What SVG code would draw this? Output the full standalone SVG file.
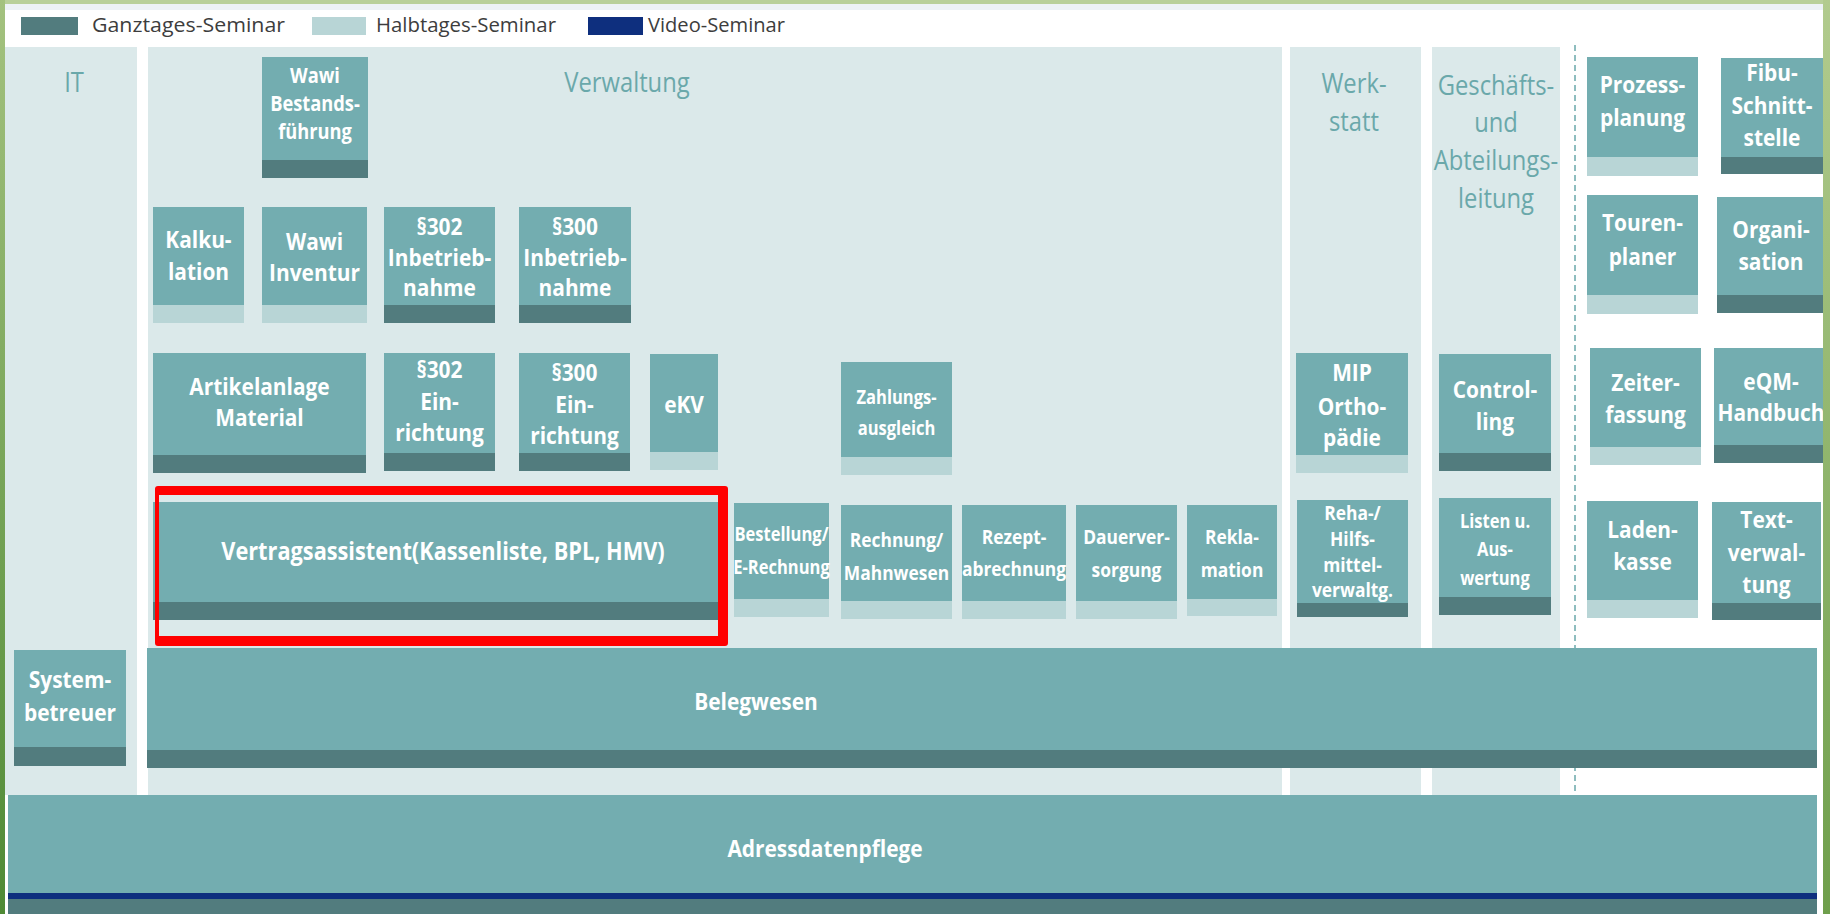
<svg xmlns="http://www.w3.org/2000/svg" width="1830" height="914" viewBox="0 0 1830 914">
<defs>
<style>
.col{fill:#dbe9ea}
.box{fill:#73adb0}
.dk{fill:#527c7e}
.lt{fill:#b8d5d6}
.b{font-family:"Open Sans","Liberation Sans",sans-serif;font-weight:700;font-size:24px;fill:#fff;text-anchor:middle;transform-box:fill-box;transform-origin:center;transform:scaleX(0.87)}
.m{font-size:21px}
.s{font-size:20px}
.xs{font-size:19px}
.lb{font-family:"Open Sans","Liberation Sans",sans-serif;font-weight:400;font-size:27px;fill:#6aa8aa;text-anchor:middle;transform-box:fill-box;transform-origin:center;transform:scaleX(0.88)}
.lg{font-family:"Open Sans","Liberation Sans",sans-serif;font-size:20px;fill:#3d3d3d}
.dash{stroke:#6aa8aa;stroke-width:1.5;stroke-dasharray:6 4;fill:none}
</style>
<linearGradient id="gl" x1="0" y1="0" x2="0" y2="1"><stop offset="0" stop-color="#a4c27f"/><stop offset="1" stop-color="#4f8a35"/></linearGradient>
<linearGradient id="gr" x1="0" y1="0" x2="0" y2="1"><stop offset="0" stop-color="#b2cb8e"/><stop offset="1" stop-color="#6f9f4c"/></linearGradient>
</defs>
<rect x="0" y="0" width="1830" height="914" fill="#ffffff"/>
<rect x="0" y="4" width="1830" height="6" fill="#edf2f6"/>

<g id="legend">
<rect x="21" y="17" width="57" height="18" class="dk"/>
<text class="lg" x="92" y="32" textLength="193" lengthAdjust="spacingAndGlyphs">Ganztages-Seminar</text>
<rect x="312" y="17" width="54" height="18" class="lt"/>
<text class="lg" x="376" y="32" textLength="180" lengthAdjust="spacingAndGlyphs">Halbtages-Seminar</text>
<rect x="588" y="17" width="55" height="18" fill="#0e2f7e"/>
<text class="lg" x="648" y="32" textLength="137" lengthAdjust="spacingAndGlyphs">Video-Seminar</text>
</g>

<g id="columns">
<rect class="col" x="5" y="47" width="132" height="748"/>
<rect class="col" x="148" y="47" width="1134" height="748"/>
<rect class="col" x="1290" y="47" width="131" height="748"/>
<rect class="col" x="1432" y="47" width="128" height="748"/>
<line class="dash" x1="1575" y1="45" x2="1575" y2="795"/>
<text class="lb" x="74" y="92">IT</text>
<text class="lb" x="627" y="92">Verwaltung</text>
<text class="lb" x="1354" y="93"><tspan x="1354" y="93">Werk-</tspan><tspan x="1354" y="131">statt</tspan></text>
<text class="lb" x="1496" y="95"><tspan x="1496" y="95">Geschäfts-</tspan><tspan x="1496" y="132">und</tspan><tspan x="1496" y="170">Abteilungs-</tspan><tspan x="1496" y="208">leitung</tspan></text>
</g>

<g id="n-wawi-bestand"><rect class="box" x="262" y="57" width="106" height="121"/><rect class="dk" x="262" y="160" width="106" height="18"/>
<text class="b m"><tspan x="315" y="83">Wawi</tspan><tspan x="315" y="111">Bestands-</tspan><tspan x="315" y="139">führung</tspan></text></g>

<g id="n-kalkulation"><rect class="box" x="153" y="207" width="91" height="116"/><rect class="lt" x="153" y="305" width="91" height="18"/>
<text class="b"><tspan x="198.5" y="248">Kalku-</tspan><tspan x="198.5" y="280">lation</tspan></text></g>

<g id="n-wawi-inventur"><rect class="box" x="262" y="207" width="105" height="116"/><rect class="lt" x="262" y="305" width="105" height="18"/>
<text class="b"><tspan x="314.5" y="250">Wawi</tspan><tspan x="314.5" y="281">Inventur</tspan></text></g>

<g id="n-302-inbetrieb"><rect class="box" x="384" y="207" width="111" height="116"/><rect class="dk" x="384" y="305" width="111" height="18"/>
<text class="b"><tspan x="439.5" y="235">§302</tspan><tspan x="439.5" y="266">Inbetrieb-</tspan><tspan x="439.5" y="296">nahme</tspan></text></g>

<g id="n-300-inbetrieb"><rect class="box" x="519" y="207" width="112" height="116"/><rect class="dk" x="519" y="305" width="112" height="18"/>
<text class="b"><tspan x="575" y="235">§300</tspan><tspan x="575" y="266">Inbetrieb-</tspan><tspan x="575" y="296">nahme</tspan></text></g>

<g id="n-artikelanlage"><rect class="box" x="153" y="353" width="213" height="120"/><rect class="dk" x="153" y="455" width="213" height="18"/>
<text class="b"><tspan x="259.5" y="395">Artikelanlage</tspan><tspan x="259.5" y="426">Material</tspan></text></g>

<g id="n-302-einrichtung"><rect class="box" x="384" y="353" width="111" height="118"/><rect class="dk" x="384" y="453" width="111" height="18"/>
<text class="b"><tspan x="439.5" y="378">§302</tspan><tspan x="439.5" y="410">Ein-</tspan><tspan x="439.5" y="441">richtung</tspan></text></g>

<g id="n-300-einrichtung"><rect class="box" x="519" y="353" width="111" height="118"/><rect class="dk" x="519" y="453" width="111" height="18"/>
<text class="b"><tspan x="574.5" y="381">§300</tspan><tspan x="574.5" y="413">Ein-</tspan><tspan x="574.5" y="444">richtung</tspan></text></g>

<g id="n-ekv"><rect class="box" x="650" y="354" width="68" height="116"/><rect class="lt" x="650" y="452" width="68" height="18"/>
<text class="b" x="684" y="413">eKV</text></g>

<g id="n-zahlungsausgleich"><rect class="box" x="841" y="362" width="111" height="113"/><rect class="lt" x="841" y="457" width="111" height="18"/>
<text class="b xs"><tspan x="896.5" y="404">Zahlungs-</tspan><tspan x="896.5" y="435">ausgleich</tspan></text></g>

<g id="n-vertragsassistent"><rect class="box" x="153" y="502" width="565" height="118"/><rect class="dk" x="153" y="602" width="565" height="18"/>
<text class="b" style="font-size:25px" x="443" y="560">Vertragsassistent(Kassenliste, BPL, HMV)</text></g>

<g id="highlight"><path fill="#ff0000" fill-rule="evenodd" d="M158 486 H725 Q728 486 728 489 V643 Q728 646 725 646 H158 Q155 646 155 643 V489 Q155 486 158 486 Z M159 495 V636 H718 V495 Z"/></g>

<g id="n-bestellung"><rect class="box" x="734" y="503" width="95" height="114"/><rect class="lt" x="734" y="599" width="95" height="18"/>
<text class="b xs"><tspan x="781.5" y="541">Bestellung/</tspan><tspan x="781.5" y="574">E-Rechnung</tspan></text></g>

<g id="n-rechnung"><rect class="box" x="841" y="505" width="111" height="114"/><rect class="lt" x="841" y="601" width="111" height="18"/>
<text class="b s"><tspan x="896.5" y="547">Rechnung/</tspan><tspan x="896.5" y="580">Mahnwesen</tspan></text></g>

<g id="n-rezept"><rect class="box" x="962" y="505" width="104" height="114"/><rect class="lt" x="962" y="601" width="104" height="18"/>
<text class="b s"><tspan x="1014" y="544">Rezept-</tspan><tspan x="1014" y="576">abrechnung</tspan></text></g>

<g id="n-dauerversorgung"><rect class="box" x="1076" y="505" width="101" height="114"/><rect class="lt" x="1076" y="601" width="101" height="18"/>
<text class="b s"><tspan x="1126.5" y="544">Dauerver-</tspan><tspan x="1126.5" y="577">sorgung</tspan></text></g>

<g id="n-reklamation"><rect class="box" x="1187" y="505" width="90" height="111"/><rect class="lt" x="1187" y="599" width="90" height="17"/>
<text class="b s"><tspan x="1232" y="544">Rekla-</tspan><tspan x="1232" y="577">mation</tspan></text></g>

<g id="n-mip"><rect class="box" x="1296" y="353" width="112" height="120"/><rect class="lt" x="1296" y="455" width="112" height="18"/>
<text class="b"><tspan x="1352" y="381">MIP</tspan><tspan x="1352" y="415">Ortho-</tspan><tspan x="1352" y="446">pädie</tspan></text></g>

<g id="n-reha"><rect class="box" x="1297" y="500" width="111" height="117"/><rect class="dk" x="1297" y="603" width="111" height="14"/>
<text class="b s"><tspan x="1352.5" y="520">Reha-/</tspan><tspan x="1352.5" y="546">Hilfs-</tspan><tspan x="1352.5" y="572">mittel-</tspan><tspan x="1352.5" y="597">verwaltg.</tspan></text></g>

<g id="n-controlling"><rect class="box" x="1439" y="354" width="112" height="117"/><rect class="dk" x="1439" y="453" width="112" height="18"/>
<text class="b"><tspan x="1495" y="398">Control-</tspan><tspan x="1495" y="430">ling</tspan></text></g>

<g id="n-listen"><rect class="box" x="1439" y="498" width="112" height="117"/><rect class="dk" x="1439" y="597" width="112" height="18"/>
<text class="b xs"><tspan x="1495" y="528">Listen u.</tspan><tspan x="1495" y="556">Aus-</tspan><tspan x="1495" y="585">wertung</tspan></text></g>

<g id="n-prozess"><rect class="box" x="1587" y="57" width="111" height="119"/><rect class="lt" x="1587" y="157" width="111" height="19"/>
<text class="b"><tspan x="1642.5" y="93">Prozess-</tspan><tspan x="1642.5" y="126">planung</tspan></text></g>

<g id="n-fibu"><rect class="box" x="1721" y="58" width="110" height="116"/><rect class="dk" x="1721" y="157" width="110" height="17"/>
<text class="b"><tspan x="1772" y="81">Fibu-</tspan><tspan x="1772" y="114">Schnitt-</tspan><tspan x="1772" y="146">stelle</tspan></text></g>

<g id="n-touren"><rect class="box" x="1587" y="195" width="111" height="119"/><rect class="lt" x="1587" y="295" width="111" height="19"/>
<text class="b"><tspan x="1642.5" y="231">Touren-</tspan><tspan x="1642.5" y="265">planer</tspan></text></g>

<g id="n-organisation"><rect class="box" x="1717" y="197" width="114" height="116"/><rect class="dk" x="1717" y="295" width="114" height="18"/>
<text class="b"><tspan x="1771" y="238">Organi-</tspan><tspan x="1771" y="270">sation</tspan></text></g>

<g id="n-zeiterfassung"><rect class="box" x="1590" y="348" width="111" height="117"/><rect class="lt" x="1590" y="447" width="111" height="18"/>
<text class="b"><tspan x="1645.5" y="391">Zeiter-</tspan><tspan x="1645.5" y="423">fassung</tspan></text></g>

<g id="n-eqm"><rect class="box" x="1714" y="348" width="116" height="115"/><rect class="dk" x="1714" y="445" width="116" height="18"/>
<text class="b"><tspan x="1771" y="390">eQM-</tspan><tspan x="1771" y="421">Handbuch</tspan></text></g>

<g id="n-ladenkasse"><rect class="box" x="1587" y="501" width="111" height="117"/><rect class="lt" x="1587" y="600" width="111" height="18"/>
<text class="b"><tspan x="1642.5" y="538">Laden-</tspan><tspan x="1642.5" y="570">kasse</tspan></text></g>

<g id="n-textverwaltung"><rect class="box" x="1712" y="502" width="109" height="118"/><rect class="dk" x="1712" y="603" width="109" height="17"/>
<text class="b"><tspan x="1766.5" y="528">Text-</tspan><tspan x="1766.5" y="561">verwal-</tspan><tspan x="1766.5" y="593">tung</tspan></text></g>

<g id="n-systembetreuer"><rect class="box" x="14" y="650" width="112" height="116"/><rect class="dk" x="14" y="747" width="112" height="19"/>
<text class="b"><tspan x="70" y="688">System-</tspan><tspan x="70" y="721">betreuer</tspan></text></g>

<g id="n-belegwesen"><rect class="box" x="147" y="648" width="1670" height="120"/><rect class="dk" x="147" y="750" width="1670" height="18"/>
<text class="b" x="756" y="710">Belegwesen</text></g>

<g id="n-adressdatenpflege"><rect class="box" x="8" y="795" width="1809" height="119"/><rect x="8" y="893" width="1809" height="6" fill="#0e2f7e"/><rect class="dk" x="8" y="899" width="1809" height="15"/>
<text class="b" x="825" y="857">Adressdatenpflege</text></g>

<g id="frame">
<rect x="0" y="0" width="1830" height="4" fill="#b9d09a"/>
<rect x="0" y="0" width="5" height="914" fill="url(#gl)"/>
<rect x="1823" y="0" width="7" height="914" fill="url(#gr)"/>
</g>
</svg>
